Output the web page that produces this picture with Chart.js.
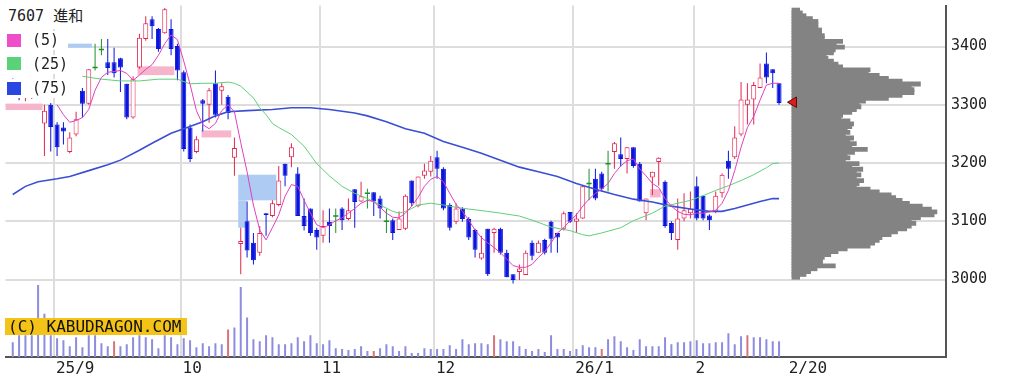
<!DOCTYPE html>
<html>
<head>
<meta charset="utf-8">
<script src="https://cdn.jsdelivr.net/npm/chart.js@4.4.1/dist/chart.umd.min.js"></script>
<style>
  body { margin: 0; background: #fff; }
  #wrap { position: relative; width: 1015px; height: 386px; overflow: hidden; }
  #main { position: absolute; left: 0; top: 0; }
  #prof { position: absolute; left: 781px; top: 0; }
  .tag { position: absolute; background: #fff; color: #222; font-family: "DejaVu Sans Mono", "Noto Sans CJK JP", monospace; font-size: 15px; white-space: nowrap; }
  .sq { position: absolute; left: 2px; width: 14px; height: 13px; }
  .txt { position: absolute; left: 27px; top: 0; }
  #badge { position: absolute; left: 5px; top: 318px; width: 179px; height: 17px; line-height: 17px; padding-left: 3px;
           background: #f3c317; color: #111; font-family: "DejaVu Sans Mono", monospace; font-size: 16px; white-space: nowrap; }
</style>
</head>
<body>
<div id="wrap">
  <canvas id="main" width="1015" height="386"></canvas>
  <canvas id="prof" width="165" height="357"></canvas>
  <div class="tag" style="left:5px;top:4px;width:83px;height:25px;line-height:25px;padding-left:3px;">7607 進和</div>
  <div class="tag" style="left:5px;top:31px;width:63px;height:19px;line-height:19px;"><span class="sq" style="top:3px;background:#ee4fc8"></span><span class="txt">(5)</span></div>
  <div class="tag" style="left:5px;top:55px;width:63px;height:19px;line-height:19px;"><span class="sq" style="top:2px;background:#5ad27a"></span><span class="txt">(25)</span></div>
  <div class="tag" style="left:5px;top:79px;width:63px;height:19px;line-height:19px;"><span class="sq" style="top:3px;background:#2a46e0"></span><span class="txt">(75)</span></div>
  <div id="badge">(C) KABUDRAGON.COM</div>
</div>
<script>
// daily candles, 2025/8/21 .. 2026/2/20 (index = trading day)
const opens = [3340,3325,3312,3320,3326, 3268,3300,3266,3261,3219, 3249,3324,3302,3364,3395, 3373,3373,3380,3336,3278,
  3364,3413,3447,3430,3423, 3430,3401,3356,3261,3219, 3308,3300,3337,3324,3314, 3209,3061,3100,3063,3046,
  3114,3109,3128,3199,3210, 3182,3109,3122,3085,3075, 3099,3109,3122,3104,3155, 3134,3148,3150,3139,3100,
  3102,3085,3087,3170,3126, 3178,3185,3210,3190,3128, 3099,3122,3104,3085,3036, 3087,3080,3087,3046,3009,
  3013,3008,3063,3046,3068, 3099,3080,3087,3116,3099, 3105,3165,3173,3182,3199, 3219,3215,3207,3227,3199,
  3114,3175,3202,3168,3097, 3068,3105,3114,3160,3144, 3110,3117,3148,3204,3210, 3249,3300,3309,3329,3371,
  3361,3337];
const highs = [3345,3334,3330,3344,3343, 3300,3303,3270,3270,3253, 3288,3329,3361,3405,3413, 3413,3398,3381,3336,3349,
  3422,3452,3452,3432,3466, 3447,3405,3359,3266,3246, 3310,3329,3359,3337,3317, 3244,3089,3134,3080,3092,
  3114,3136,3195,3199,3234, 3193,3139,3122,3089,3119, 3122,3122,3124,3139,3155, 3168,3156,3150,3144,3121,
  3105,3117,3146,3170,3177, 3199,3212,3221,3193,3131, 3131,3124,3107,3087,3075, 3087,3089,3089,3051,3009,
  3026,3050,3067,3067,3070, 3101,3080,3117,3116,3114, 3162,3190,3190,3185,3221, 3236,3244,3227,3227,3202,
  3139,3185,3210,3170,3100, 3139,3148,3151,3177,3144, 3112,3151,3182,3221,3263, 3339,3337,3339,3371,3390,
  3361,3337];
const lows = [3312,3308,3306,3310,3315, 3212,3220,3212,3232,3217, 3246,3278,3300,3359,3385, 3351,3347,3322,3275,3276,
  3362,3410,3413,3391,3422, 3385,3342,3220,3202,3217, 3254,3269,3278,3300,3275, 3178,3009,3038,3026,3041,
  3075,3107,3126,3160,3193, 3109,3084,3075,3051,3063, 3063,3080,3085,3102,3089, 3133,3122,3109,3105,3080,
  3068,3085,3085,3126,3124, 3173,3177,3173,3119,3084, 3095,3099,3068,3038,3034, 3006,3046,3043,3004,2993,
  2999,3008,3033,3046,3043, 3046,3046,3084,3097,3080, 3104,3136,3136,3151,3151, 3190,3194,3182,3192,3134,
  3102,3145,3161,3089,3068, 3051,3100,3105,3102,3102, 3085,3114,3141,3173,3207, 3246,3266,3266,3329,3337,
  3329,3300];
const closes = [3318,3315,3326,3335,3338, 3290,3262,3227,3254,3244, 3275,3302,3361,3364,3395, 3363,3354,3364,3278,3344,
  3415,3440,3435,3396,3464, 3396,3359,3224,3207,3241, 3302,3325,3283,3332,3286, 3226,3066,3050,3033,3080,
  3111,3131,3170,3178,3227, 3109,3092,3080,3072,3092, 3092,3109,3102,3119,3133, 3143,3148,3134,3122,3100,
  3080,3105,3144,3131,3177, 3187,3204,3190,3122,3089, 3122,3104,3072,3051,3046, 3009,3087,3046,3004,2999,
  3019,3046,3041,3063,3046, 3070,3072,3114,3099,3105, 3160,3165,3139,3156,3199, 3234,3207,3227,3195,3134,
  3139,3185,3209,3092,3080, 3105,3119,3122,3105,3105, 3102,3144,3180,3190,3244, 3309,3309,3334,3347,3347,
  3354,3303];
const volumes = [1500,2200,2200,2200,7300,4400,2200,1900,1700,1100, 2000,1000,2200,2200,1400,1100,1600,1100,1300,2000,
  2200,2000,1800,900,2200,2000,1300,1900,1700,1000, 1400,1100,1400,1300,2800,3000,7100,4000,1800,1600,
  2200,2000,1300,1300,1400,2000,1600,2200,1400,1300, 1700,900,800,700,800,1100,600,600,900,1300,
  1100,600,1100,400,400,900,800,800,800,1200, 800,1800,1300,1400,1400,1300,2200,1800,1600,1600,
  1100,800,600,800,500,2200,800,800,600,800, 1200,1000,1000,800,1800,2100,1600,1000,700,1800,
  1100,1100,1100,2000,1300,1500,1500,1600,1700,1400, 1400,1500,1500,2400,1300,2100,2200,2000,2000,1800,
  1600,1600];
const volRedDays = [16, 34, 57, 76, 93, 116];

// moving averages
const ma5 = [null,null,null,null,null,null,null,3300,3283,3270,
  3273,3278,3292,3325,3347,3356,3357,3359,3354,3342, 3351,3361,3369,3385,3405,3420,3412,3375,3335,3290,
  3266,3259,3268,3290,3300,3288,3235,3185,3128,3085, 3068,3089,3111,3143,3163,3160,3136,3114,3094,3089,
  3094,3101,3106,3114,3122,3131,3136,3134,3124,3114, 3107,3106,3114,3126,3141,3160,3172,3177,3168,3148,
  3129,3117,3102,3085,3072,3063,3055,3046,3035,3024, 3021,3021,3026,3038,3048,3063,3080,3089,3101,3111,
  3126,3138,3148,3155,3165,3182,3195,3204,3207,3190, 3178,3165,3158,3139,3126,3117,3112,3111,3114,3114,
  3116,3119,3131,3153,3187,3227,3261,3280,3308,3334, 3337,3337];
const ma25Days = [11,14,17,20,23,26,28,30,32,34, 35,36,37,38,39,40,41,42,44,46, 48,50,52,54,56,58,60,61,62,63,
  64,66,68,70,72,75,77,80,82,85, 88,90,91,93,96,98,101,103,105,107, 109,111,113,115,117,119,120,121];
const ma25Vals = [3349,3344,3341,3341,3344,3344,3336,3337,3337,3339, 3337,3332,3322,3312,3295,3283,3268,3261,3249,3229,
  3199,3178,3160,3148,3139,3128,3117,3114,3117,3122, 3128,3131,3128,3124,3121,3117,3114,3109,3102,3090,
  3084,3077,3075,3080,3089,3101,3114,3126,3131,3136, 3144,3153,3161,3170,3180,3192,3199,3200];
const ma75Days = [0,2,4,7,9,12,15,17,20,22, 25,27,30,32,34,37,41,44,47,50, 54,56,59,62,65,68,71,74,77,80,
  83,86,89,92,95,98,101,104,107,110, 112,114,116,118,120,121];
const ma75Vals = [3146,3160,3168,3173,3177,3187,3197,3205,3222,3234, 3251,3259,3271,3281,3288,3290,3292,3295,3295,3292,
  3286,3281,3271,3259,3251,3237,3227,3217,3205,3193, 3185,3177,3165,3155,3146,3138,3133,3126,3121,3117,
  3117,3122,3128,3134,3139,3139];

// price gaps (windows) marked on the chart
const gapFrom = [-1.2, -1.2, 19.7, 29.8, 35.6, 35.6, 100.6];
const gapTo   = [4.7, 12.5, 25.5, 34.5, 41.6, 36.9, 102.3];
const gapLow  = [3291, 3398, 3351, 3244, 3136, 3089, 3141];
const gapHigh = [3302, 3405, 3366, 3256, 3180, 3136, 3155];
const gapUp   = [true, false, true, true, false, false, true];

// volume by price
const profPrices = [3465,3460,3455,3450,3445,3440,3435,3430,3425,3420, 3415,3410,3405,3400,3395,3390,3385,3380,3375,3370,
  3365,3360,3355,3350,3345,3340,3335,3330,3325,3320, 3315,3310,3305,3300,3295,3290,3285,3280,3275,3270,
  3265,3260,3255,3250,3245,3240,3235,3230,3225,3220, 3215,3210,3205,3200,3195,3190,3185,3180,3175,3170,
  3165,3160,3155,3150,3145,3140,3135,3130,3125,3120, 3115,3110,3105,3100,3095,3090,3085,3080,3075,3070,
  3065,3060,3055,3050,3045,3040,3035,3030,3025,3020, 3015,3010,3005,3000,2995];
const profVolumes = [7,10,14,21,27,27,27,31,31,34, 34,54,47,56,46,44,36,38,44,49, 54,84,82,94,104,119,139,129,132,132,
  119,104,79,72,74,69,64,54,52,62, 66,64,59,62,57,66,62,69,64,81, 67,59,62,57,72,64,76,69,74,69,
  77,72,69,84,94,107,112,119,127,141, 151,157,154,139,129,134,129,124,114,107, 97,94,89,84,59,49,41,34,32,32,
  46,26,19,14,7];

const monthFirstDay = [7, 27, 49, 67, 89, 108];
const monthLabels = ['25/9', '10', '11', '12', '26/1', '2'];
const lastDateLabel = '2/20';
const priceTicks = [3000, 3100, 3200, 3300, 3400];

// view
const X_MIN = -1.146, X_MAX = 147.36;
const P_MIN = 2867, P_MAX = 3470.5;
const UP = '#e3234f', DOWN = '#0a14dc', EVEN = '#1f8f2a';
const GRID = '#dddddd', AXIS = '#555555';
const FONT = 'DejaVu Sans Mono';

const n = closes.length;
const dir = closes.map((c, i) => c > opens[i] ? 1 : c < opens[i] ? -1 : 0);
const lineCol = dir.map(d => d > 0 ? UP : d < 0 ? DOWN : EVEN);
const fillCol = dir.map(d => d > 0 ? '#ffffff' : d < 0 ? DOWN : 'rgba(0,0,0,0)');

const xTicks = monthFirstDay.map(d => d - 0.5).concat(n + 0.2);
const xLabels = monthLabels.concat(lastDateLabel);

const gapPlugin = {
  id: 'gaps',
  beforeDatasetsDraw(chart) {
    const { ctx, chartArea, scales: { x, y } } = chart;
    ctx.save();
    ctx.beginPath();
    ctx.rect(chartArea.left, chartArea.top, chartArea.width, chartArea.height);
    ctx.clip();
    gapFrom.forEach((from, k) => {
      const x0 = x.getPixelForValue(from), x1 = x.getPixelForValue(gapTo[k]);
      const y0 = y.getPixelForValue(gapHigh[k]), y1 = y.getPixelForValue(gapLow[k]);
      ctx.fillStyle = gapUp[k] ? '#f6b5cb' : '#aecbf4';
      ctx.fillRect(x0, y0, x1 - x0, y1 - y0);
    });
    ctx.restore();
  }
};

const noPad = s => { s.paddingTop = 0; s.paddingBottom = 0; s.paddingLeft = 0; s.paddingRight = 0; };

new Chart(document.getElementById('main'), {
  type: 'bar',
  data: {
    datasets: [
      { type: 'line', label: 'MA5', data: ma5.map((v, i) => ({ x: i, y: v })).filter(p => p.y !== null),
        borderColor: '#e040c0', borderWidth: 1, pointRadius: 0, order: 0 },
      { type: 'line', label: 'MA25', data: ma25Days.map((d, k) => ({ x: d, y: ma25Vals[k] })),
        borderColor: '#5fcf78', borderWidth: 1, pointRadius: 0, order: 1 },
      { type: 'line', label: 'MA75', data: ma75Days.map((d, k) => ({ x: d, y: ma75Vals[k] })),
        borderColor: '#3a4fd4', borderWidth: 1.6, pointRadius: 0, order: 2 },
      { type: 'line', label: 'doji', data: closes.map((c, i) => ({ x: i, y: opens[i] })).filter((p, i) => dir[i] === 0),
        showLine: false, pointStyle: 'line', pointRadius: 2.6, pointBorderColor: EVEN, pointBorderWidth: 1.5, order: 3 },
      { label: 'body', data: closes.map((c, i) => ({ x: i, y: [opens[i], c] })),
        backgroundColor: fillCol, borderColor: dir.map((d, i) => d === 0 ? 'rgba(0,0,0,0)' : lineCol[i]),
        borderWidth: 1, borderSkipped: false, grouped: false, barPercentage: 1, categoryPercentage: 1,
        maxBarThickness: 5, inflateAmount: 0, order: 4 },
      { label: 'wick', data: closes.map((c, i) => ({ x: i, y: [lows[i], highs[i]] })),
        backgroundColor: lineCol, borderWidth: 0, grouped: false, barPercentage: 1, categoryPercentage: 1,
        maxBarThickness: 1, inflateAmount: 0, order: 5 },
      { label: 'volume', yAxisID: 'yVol', data: volumes.map((v, i) => ({ x: i, y: v })),
        backgroundColor: volumes.map((v, i) => volRedDays.includes(i) ? '#d9737a' : '#8c8ce0'),
        borderWidth: 0, grouped: false, barPercentage: 1, categoryPercentage: 1,
        maxBarThickness: 2, inflateAmount: 0, order: 6 }
    ]
  },
  options: {
    responsive: false,
    animation: false,
    events: [],
    layout: { padding: 0 },
    plugins: { legend: { display: false }, tooltip: { enabled: false } },
    scales: {
      x: {
        type: 'linear', min: X_MIN, max: X_MAX, offset: false,
        afterBuildTicks: s => { s.ticks = xTicks.map(v => ({ value: v })); },
        afterFit: s => { s.height = 29; noPad(s); },
        grid: { offset: false, drawTicks: false, lineWidth: 2,
                color: c => c.index < monthFirstDay.length ? GRID : 'rgba(0,0,0,0)' },
        border: { display: true, color: AXIS, width: 2 },
        ticks: { autoSkip: false, maxRotation: 0, minRotation: 0, align: 'start', labelOffset: 2, padding: 2,
                 color: '#222', font: { family: FONT, size: 16 }, callback: (v, i) => xLabels[i] }
      },
      y: {
        type: 'linear', position: 'right', min: P_MIN, max: P_MAX,
        afterBuildTicks: s => { s.ticks = priceTicks.map(v => ({ value: v })); },
        afterFit: s => { s.width = 69; noPad(s); },
        grid: { drawTicks: false, lineWidth: 2, color: GRID },
        border: { display: true, color: AXIS, width: 2 },
        ticks: { padding: 5, color: '#222', font: { family: FONT, size: 15 }, callback: v => String(v) }
      },
      yVol: { type: 'linear', display: false, min: 0, max: 35700 }
    }
  },
  plugins: [gapPlugin]
});

new Chart(document.getElementById('prof'), {
  type: 'bar',
  data: {
    datasets: [
      { label: 'profile', indexAxis: 'y', data: profPrices.map((p, k) => ({ x: profVolumes[k], y: p })),
        backgroundColor: '#838383', borderWidth: 0, grouped: false, barPercentage: 1, categoryPercentage: 1,
        inflateAmount: 1, order: 1 },
      { type: 'scatter', label: 'last', data: [{ x: 1, y: closes[n - 1] }],
        pointStyle: 'triangle', rotation: -90, pointRadius: 6,
        backgroundColor: '#e31a1a', borderColor: '#5a0c0c', borderWidth: 1, clip: false, order: 0 }
    ]
  },
  options: {
    responsive: false,
    animation: false,
    events: [],
    indexAxis: 'y',
    layout: { padding: 0 },
    plugins: { legend: { display: false }, tooltip: { enabled: false } },
    scales: {
      x: { type: 'linear', display: false, min: -5, max: 160, offset: false },
      y: { type: 'linear', display: false, min: P_MIN, max: P_MAX, offset: false }
    }
  }
});
</script>
</body>
</html>
